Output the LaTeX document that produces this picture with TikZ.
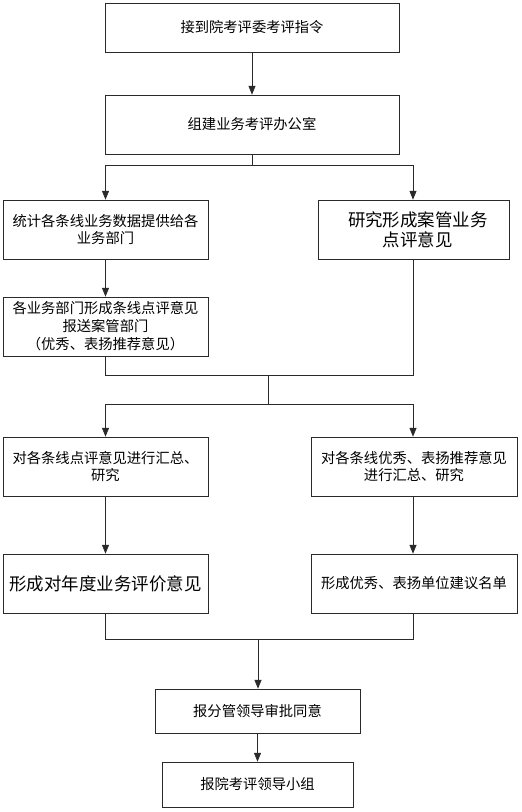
\documentclass[tikz,border=0pt]{standalone}
\usepackage{fontspec}
\setmainfont{Noto Sans CJK SC}
\usepackage{tikz}
\usetikzlibrary{arrows.meta}
\definecolor{lineink}{HTML}{2A2A2A}

\tikzset{
  flowbox/.style={draw=lineink, line width=0.6pt, align=center, inner sep=2pt,
                  font=\fontsize{12.2}{15.3}\selectfont},
  bigtext/.style={font=\fontsize{14.9}{17}\selectfont},
  link/.style={draw=lineink, line width=0.6pt},
  arr/.style={link, -{Triangle[length=7.5pt,width=6pt]}},
}

\begin{document}
\begin{tikzpicture}[x=0.03cm, y=-0.03cm]
    \useasboundingbox (0,0) rectangle (521,812);

    % top of the flow
    \node[flowbox, minimum width=8.82cm, minimum height=1.47cm] (recv) at (252,27.5) {接到院考评委考评指令};
    \node[flowbox, minimum width=8.82cm, minimum height=1.77cm] (office) at (252,124.5) {组建业务考评办公室};

    % first split
    \node[flowbox, minimum width=6.15cm, minimum height=1.77cm] (stats) at (105.5,229.5) {统计各条线业务数据提供给各\\业务部门};
    \node[flowbox, bigtext, minimum width=5.73cm, minimum height=1.77cm] (study) at (413.5,229.5) {\hspace{0.5em}研究形成案管业务\\\hspace{0.5em}点评意见};
    \node[flowbox, minimum width=6.15cm, minimum height=1.77cm] (depts) at (105.5,326.5) {各业务部门形成条线点评意见\\报送案管部门\\（优秀、表扬推荐意见）};

    % second split
    \node[flowbox, minimum width=6.15cm, minimum height=1.77cm] (sumup) at (105.5,466.5) {对各条线点评意见进行汇总、\\研究};
    \node[flowbox, minimum width=6.18cm, minimum height=1.77cm] (praise) at (414,466.5) {对各条线优秀、表扬推荐意见\\进行汇总、研究};
    \node[flowbox, bigtext, minimum width=6.15cm, minimum height=1.77cm] (yearly) at (105.5,583.5) {形成对年度业务评价意见};
    \node[flowbox, minimum width=6.18cm, minimum height=1.77cm] (names) at (414,583.5) {形成优秀、表扬单位建议名单};

    % bottom of the flow
    \node[flowbox, minimum width=6.15cm, minimum height=1.32cm] (approve) at (257.5,711) {报分管领导审批同意};
    \node[flowbox, minimum width=5.73cm, minimum height=1.35cm] (report) at (257.5,784.5) {报院考评领导小组};

    % junction points
    \coordinate (split1) at (252,165);
    \coordinate (join1) at (268,375);
    \coordinate (split2) at (268,404);
    \coordinate (join2) at (258,639);

    % connectors
    \draw[arr] (recv) -- (office);
    \draw[link] (office.south) -- (split1);
    \draw[arr] (split1) -| (stats.north);
    \draw[arr] (split1) -| ([xshift=-0.015cm]study.north);
    \draw[arr] (stats) -- (depts);
    \draw[link] (depts.south) |- (join1);
    \draw[link] ([xshift=-0.015cm]study.south) |- (join1);
    \draw[link] (join1) -- (split2);
    \draw[arr] (split2) -| (sumup.north);
    \draw[arr] (split2) -| ([xshift=-0.03cm]praise.north);
    \draw[arr] (sumup) -- (yearly);
    \draw[arr] ([xshift=-0.03cm]praise.south) -- ([xshift=-0.03cm]names.north);
    \draw[link] (yearly.south) |- (join2);
    \draw[link] ([xshift=-0.03cm]names.south) |- (join2);
    \draw[arr] (join2) -- (join2 |- approve.north);
    \draw[arr] (approve) -- (report);
\end{tikzpicture}
\end{document}
